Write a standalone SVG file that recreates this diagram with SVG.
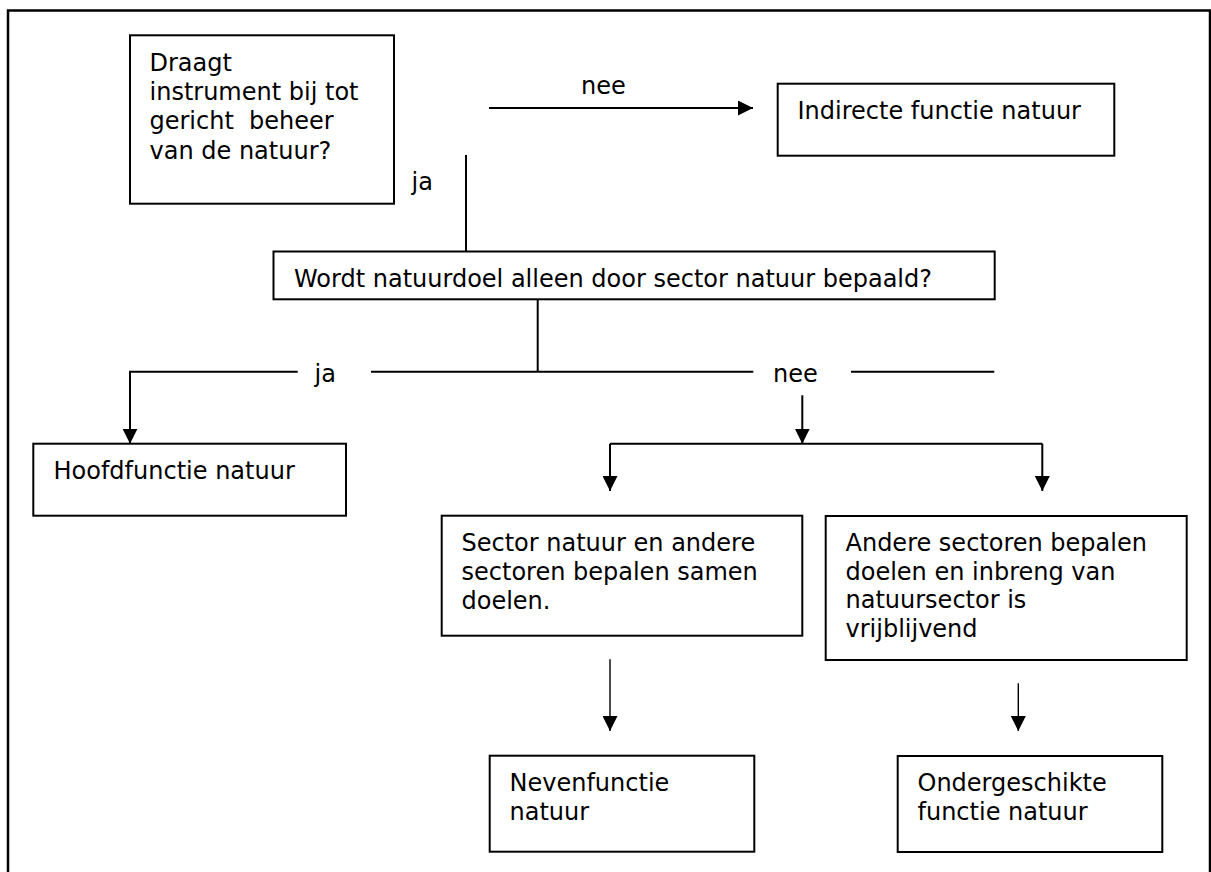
<svg xmlns="http://www.w3.org/2000/svg" width="1211" height="872" viewBox="0 0 1211 872">
<style>
  .box { fill: #ffffff; stroke: #000000; stroke-width: 2; }
  .t { font-family: "DejaVu Sans", Verdana, sans-serif; font-size: 24px; fill: #000000; white-space: pre; }
  .c { fill: none; stroke: #000000; stroke-width: 2; }
  .thin { stroke-width: 1.4; }
</style>
<defs>
  <marker id="ah" markerUnits="userSpaceOnUse" markerWidth="15" markerHeight="15" refX="15" refY="7.5" orient="auto">
    <path d="M0,0 L15,7.5 L0,15 Z" fill="#000000"/>
  </marker>
</defs>
<rect x="8" y="10.5" width="1202" height="900" fill="#ffffff" stroke="#000000" stroke-width="2.5"/>

<g id="connectors">
  <line class="c" x1="489" y1="108" x2="753" y2="108" marker-end="url(#ah)"/>
  <line class="c" x1="466" y1="155" x2="466" y2="251.5"/>
  <line class="c" x1="537.7" y1="299.3" x2="537.7" y2="371.7"/>
  <polyline class="c" points="297.7,371.7 130,371.7 130,443.7" marker-end="url(#ah)"/>
  <line class="c" x1="371" y1="371.7" x2="753.3" y2="371.7"/>
  <line class="c" x1="851" y1="371.7" x2="994.3" y2="371.7"/>
  <line class="c" x1="802.3" y1="395.3" x2="802.3" y2="443.7" marker-end="url(#ah)"/>
  <line class="c" x1="610" y1="443.7" x2="1042.3" y2="443.7"/>
  <line class="c" x1="610" y1="443.7" x2="610" y2="491" marker-end="url(#ah)"/>
  <line class="c" x1="1042.3" y1="443.7" x2="1042.3" y2="491" marker-end="url(#ah)"/>
  <line class="c thin" x1="610" y1="659.3" x2="610" y2="731" marker-end="url(#ah)"/>
  <line class="c thin" x1="1018.3" y1="683.3" x2="1018.3" y2="731" marker-end="url(#ah)"/>
  <text class="t" x="581" y="94">nee</text>
  <text class="t" x="411.5" y="190.3">ja</text>
  <text class="t" x="314.5" y="382">ja</text>
  <text class="t" x="773" y="382">nee</text>
</g>

<g id="n-draagt">
  <rect class="box" x="130" y="35.3" width="264" height="168.4"/>
  <text class="t" x="149.5" y="70.7">Draagt</text>
  <text class="t" x="149.5" y="100">instrument bij tot</text>
  <text class="t" x="149.5" y="129.3">gericht  beheer</text>
  <text class="t" x="149.5" y="158.5">van de natuur?</text>
</g>

<g id="n-indirect">
  <rect class="box" x="777.7" y="83.7" width="336.6" height="72"/>
  <text class="t" x="797.5" y="119.3">Indirecte functie natuur</text>
</g>

<g id="n-wordt">
  <rect class="box" x="273.5" y="251.5" width="721.2" height="47.8"/>
  <text class="t" x="294" y="286.7">Wordt natuurdoel alleen door sector natuur bepaald?</text>
</g>

<g id="n-hoofd">
  <rect class="box" x="33.3" y="443.7" width="312.7" height="72"/>
  <text class="t" x="53.5" y="478.7">Hoofdfunctie natuur</text>
</g>

<g id="n-sector">
  <rect class="box" x="441.7" y="515.7" width="360.6" height="120"/>
  <text class="t" x="461.5" y="551">Sector natuur en andere</text>
  <text class="t" x="461.5" y="580.3">sectoren bepalen samen</text>
  <text class="t" x="461.5" y="609.3">doelen.</text>
</g>

<g id="n-andere">
  <rect class="box" x="825.7" y="516" width="361" height="144"/>
  <text class="t" x="845.5" y="550.7">Andere sectoren bepalen</text>
  <text class="t" x="845.5" y="579.5">doelen en inbreng van</text>
  <text class="t" x="845.5" y="608.3">natuursector is</text>
  <text class="t" x="845.5" y="637">vrijblijvend</text>
</g>

<g id="n-neven">
  <rect class="box" x="489.7" y="755.7" width="264.6" height="96"/>
  <text class="t" x="509.5" y="790.7">Nevenfunctie</text>
  <text class="t" x="509.5" y="820">natuur</text>
</g>

<g id="n-onder">
  <rect class="box" x="897.7" y="756" width="264.6" height="96"/>
  <text class="t" x="917.5" y="790.7">Ondergeschikte</text>
  <text class="t" x="917.5" y="819.5">functie natuur</text>
</g>
</svg>
